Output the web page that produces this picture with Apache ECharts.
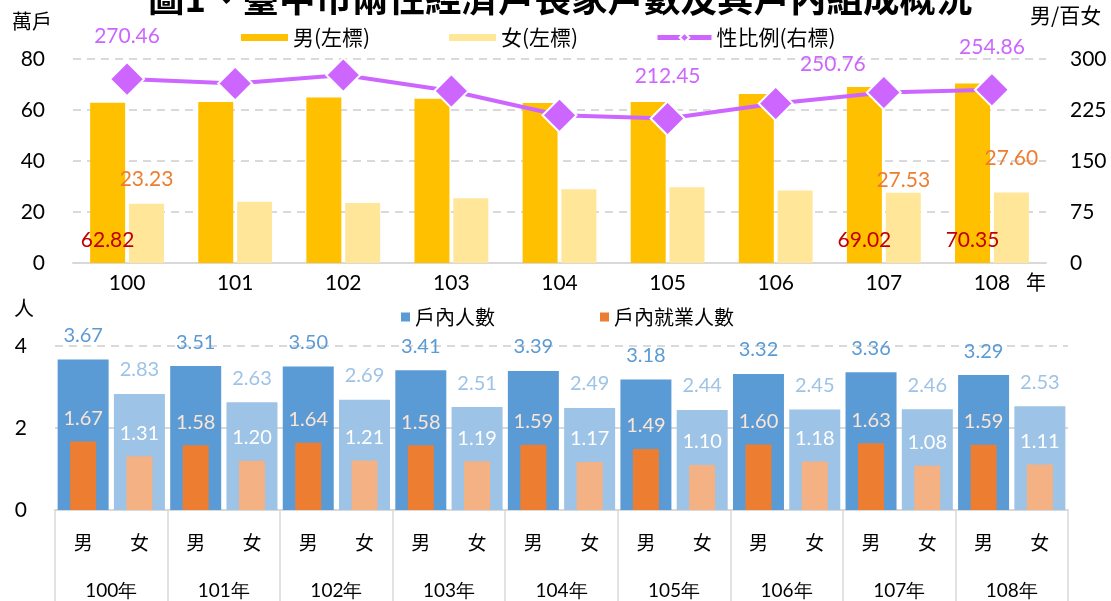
<!DOCTYPE html>
<html>
<head>
<meta charset="utf-8">
<script src="https://cdn.jsdelivr.net/npm/echarts@6/dist/echarts.min.js"></script>
<style>html,body{margin:0;padding:0;background:#fff}#c{width:1111px;height:601px}</style>
</head>
<body>
<div id="c"></div>
<script>
// ---- data ----
const years = ['100','101','102','103','104','105','106','107','108'];
const maleHouseholds = [62.82, 63.1, 64.9, 64.4, 62.7, 63.1, 66.3, 69.02, 70.35];
const femaleHouseholds = [23.23, 24.0, 23.5, 25.4, 28.9, 29.7, 28.4, 27.53, 27.60];
const sexRatio = [270.46, 264.0, 276.4, 253.0, 217.2, 212.45, 234.5, 250.76, 254.86];
const genders = ['男', '女'];
const maleMembers = [3.67, 3.51, 3.50, 3.41, 3.39, 3.18, 3.32, 3.36, 3.29];
const femaleMembers = [2.83, 2.63, 2.69, 2.51, 2.49, 2.44, 2.45, 2.46, 2.53];
const maleEmployed = [1.67, 1.58, 1.64, 1.58, 1.59, 1.49, 1.60, 1.63, 1.59];
const femaleEmployed = [1.31, 1.20, 1.21, 1.19, 1.17, 1.10, 1.18, 1.08, 1.11];
const yLeftTicks = [0, 20, 40, 60, 80];
const yRightTicks = [0, 75, 150, 225, 300];

// ---- styling ----
const NUM = 'Lato, "Liberation Sans", sans-serif';
const CJK = '"Noto Sans CJK TC", "Noto Sans CJK SC", sans-serif';
const fmt2 = p => Number(p.value).toFixed(2);

// which top labels are shown (index -> label option)
const maleLabelIdx = [0, 7, 8];
const femaleLabelDist = {0: 14, 7: 2, 8: 24};
const ratioLabelOpt = {0: {}, 5: {}, 7: {position: 'top', offset: [-51, 14]}, 8: {}};

const maleData = maleHouseholds.map((v, i) => maleLabelIdx.includes(i)
  ? {value: v, label: {show: true}} : v);
const femaleData = femaleHouseholds.map((v, i) => (i in femaleLabelDist)
  ? {value: v, label: {show: true, distance: femaleLabelDist[i]}} : v);
const ratioData = sexRatio.map((v, i) => (i in ratioLabelOpt)
  ? {value: v, label: Object.assign({show: true}, ratioLabelOpt[i])} : v);

const bottomCats = [];
const outerData = [];
const innerData = [];
years.forEach((y, i) => {
  bottomCats.push(genders[0], genders[1]);
  outerData.push({value: maleMembers[i], itemStyle: {color: '#5B9BD5'}, label: {color: '#5B9BD5'}});
  outerData.push({value: femaleMembers[i], itemStyle: {color: '#9DC3E6'}, label: {color: '#9DC3E6'}});
  innerData.push({value: maleEmployed[i], itemStyle: {color: '#ED7D31'}, label: {color: '#FBE5D6'}});
  innerData.push({value: femaleEmployed[i], itemStyle: {color: '#F4B183'}, label: {color: '#FFFFFF'}});
});
const yearLabels = years.map(y => y + '年');

const chart = echarts.init(document.getElementById('c'), null, {renderer: 'canvas'});
const gridLine = '#D9D9D9';
chart.setOption({
  animation: false,
  backgroundColor: '#fff',
  title: {
    text: '圖1、臺中市兩性經濟戶長家戶數及其戶內組成概況',
    left: 143, top: -25,
    textStyle: {fontFamily: CJK, fontSize: 36.5, fontWeight: 'bold', color: '#000'}
  },
  legend: [
    {data: ['男(左標)'], left: 236, top: 22, icon: 'rect', itemWidth: 47, itemHeight: 7,
     textStyle: {fontFamily: CJK, fontSize: 21, color: '#000'}},
    {data: ['女(左標)'], left: 444, top: 22, icon: 'rect', itemWidth: 47, itemHeight: 7,
     textStyle: {fontFamily: CJK, fontSize: 21, color: '#000'}},
    {data: ['性比例(右標)'], left: 650, top: 22, itemWidth: 54, itemHeight: 12,
     lineStyle: {width: 5, color: '#CC66FF'},
     textStyle: {fontFamily: CJK, fontSize: 21, color: '#000'}},
    {data: ['戶內人數'], left: 396, top: 302, icon: 'rect', itemWidth: 9, itemHeight: 9,
     textStyle: {fontFamily: CJK, fontSize: 20, color: '#000'}},
    {data: ['戶內就業人數'], left: 595, top: 302, icon: 'rect', itemWidth: 9, itemHeight: 9,
     textStyle: {fontFamily: CJK, fontSize: 20, color: '#000'}}
  ],
  grid: [
    {left: 73, right: 65, top: 59, height: 204},
    {left: 55, right: 43, top: 346, height: 164}
  ],
  xAxis: [
    {gridIndex: 0, type: 'category', data: years,
     axisLine: {lineStyle: {color: gridLine, width: 2}}, axisTick: {show: false},
     axisLabel: {fontFamily: NUM, fontSize: 21, color: '#000', margin: 10}},
    {gridIndex: 1, type: 'category', data: bottomCats,
     axisLine: {lineStyle: {color: gridLine, width: 2}}, axisTick: {show: false},
     axisLabel: {fontFamily: CJK, fontSize: 19, color: '#000', margin: 23, interval: 0}},
    {gridIndex: 1, type: 'category', data: bottomCats, show: false},
    {gridIndex: 1, type: 'category', data: yearLabels, position: 'bottom',
     axisLine: {show: false},
     axisTick: {show: true, length: 92, interval: 0, lineStyle: {color: gridLine, width: 1.5}},
     axisLabel: {fontFamily: NUM, fontSize: 19, color: '#000', margin: 71, interval: 0}}
  ],
  yAxis: [
    {gridIndex: 0, type: 'value', min: yLeftTicks[0], max: yLeftTicks[yLeftTicks.length - 1],
     interval: yLeftTicks[1] - yLeftTicks[0],
     axisLine: {show: false}, axisTick: {show: false},
     axisLabel: {fontFamily: NUM, fontSize: 21, color: '#000', margin: 28},
     splitLine: {lineStyle: {color: gridLine, type: [8, 6], width: 2}}},
    {gridIndex: 0, type: 'value', min: yRightTicks[0], max: yRightTicks[yRightTicks.length - 1],
     interval: yRightTicks[1] - yRightTicks[0], position: 'right',
     axisLine: {show: false}, axisTick: {show: false},
     axisLabel: {fontFamily: NUM, fontSize: 21, color: '#000', margin: 24, align: 'left'},
     splitLine: {show: false}},
    {gridIndex: 1, type: 'value', min: 0, max: 4, interval: 2,
     axisLine: {show: false}, axisTick: {show: false},
     axisLabel: {fontFamily: NUM, fontSize: 21, color: '#000', margin: 28},
     splitLine: {lineStyle: {color: ['rgba(0,0,0,0)', gridLine, 'rgba(0,0,0,0)'], width: 2}}},
    {gridIndex: 1, type: 'value', min: 0, max: 4, interval: 4,
     axisLine: {show: false}, axisTick: {show: false}, axisLabel: {show: false},
     splitLine: {lineStyle: {color: ['rgba(0,0,0,0)', gridLine], type: [8, 6], width: 2}}}
  ],
  series: [
    {name: '男(左標)', type: 'bar', xAxisIndex: 0, yAxisIndex: 0, data: maleData,
     barWidth: 35, barGap: '11%', itemStyle: {color: '#FFC000'},
     label: {show: false, position: 'insideBottom', distance: 12, color: '#C00000',
             fontFamily: NUM, fontSize: 21, formatter: fmt2}},
    {name: '女(左標)', type: 'bar', xAxisIndex: 0, yAxisIndex: 0, data: femaleData,
     barWidth: 35, itemStyle: {color: '#FFE699'},
     label: {show: false, position: 'top', color: '#ED7D31',
             fontFamily: NUM, fontSize: 21, formatter: fmt2}},
    {name: '性比例(右標)', type: 'line', xAxisIndex: 0, yAxisIndex: 1, data: ratioData,
     symbol: 'diamond', symbolSize: 34,
     lineStyle: {color: '#CC66FF', width: 4},
     itemStyle: {color: '#CC66FF', borderColor: '#fff', borderWidth: 2},
     label: {show: false, position: 'top', distance: 14, color: '#CC66FF',
             fontFamily: NUM, fontSize: 21, formatter: fmt2}},
    {name: '戶內人數', type: 'bar', xAxisIndex: 1, yAxisIndex: 2, data: outerData,
     barWidth: 51, itemStyle: {color: '#5B9BD5'},
     label: {show: true, position: 'top', distance: 14,
             fontFamily: NUM, fontSize: 20, formatter: fmt2}},
    {name: '戶內就業人數', type: 'bar', xAxisIndex: 2, yAxisIndex: 2, data: innerData,
     barWidth: 26, itemStyle: {color: '#ED7D31'},
     label: {show: true, position: 'top', distance: 13,
             fontFamily: NUM, fontSize: 20, formatter: fmt2}}
  ],
  graphic: [
    {type: 'text', left: 12, top: 11, style: {text: '萬戶', font: '20px ' + CJK, fill: '#000'}},
    {type: 'text', left: 1030, top: 5, style: {text: '男/百女', font: '21px ' + CJK, fill: '#000'}},
    {type: 'text', left: 1026, top: 272, style: {text: '年', font: '20px ' + CJK, fill: '#000'}},
    {type: 'text', left: 14, top: 298, style: {text: '人', font: '20px ' + CJK, fill: '#000'}}
  ]
});
</script>
</body>
</html>
